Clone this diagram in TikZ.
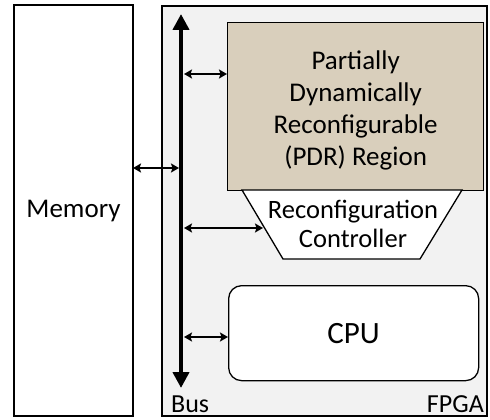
\documentclass[tikz,border=0pt]{standalone}
\usepackage{fontspec}
\setmainfont{Carlito}
\usetikzlibrary{arrows.meta}
\begin{document}
\begin{tikzpicture}[x=1pt,y=-1pt,
  box/.style={draw=black,line width=1.3pt},
  lbl/.style={font=\fontsize{27}{32}\selectfont,align=center,inner sep=0pt},
  link/.style={line width=2pt,{Stealth[length=8pt,width=9pt,inset=1.5pt]}-{Stealth[length=8pt,width=9pt,inset=1.5pt]}},
  busline/.style={line width=4.5pt,-{Triangle[length=16pt,width=16pt]}}]
\useasboundingbox (0,0) rectangle (490,420);
\definecolor{fpgagray}{RGB}{242,242,242}
\definecolor{pdrtan}{RGB}{217,207,188}
% Memory
\draw[box,fill=white] (14,5) rectangle (133,416);
\node[lbl] (mem) at (73.5,211) {Memory};
\coordinate (memR) at (133,168);
% FPGA
\draw[box,fill=fpgagray] (162,6) rectangle (487,416);
% PDR region
\node[box,fill=pdrtan,minimum width=256pt,minimum height=168pt,inner sep=0pt,anchor=north west] (pdr) at (227,22) {};
\node[lbl] at ([yshift=-4pt]pdr.center) {Partially\\Dynamically\\Reconfigurable\\(PDR) Region};
% Reconfiguration controller (trapezoid)
\draw[box,fill=white] (242,190) -- (462,190) -- (420,259) -- (283,259) -- cycle;
\node[lbl,font=\fontsize{26.5}{28.5}\selectfont] (rc) at (353,224) {Reconfiguration\\Controller};
\coordinate (rcL) at (263,228);
% CPU
\node[box,fill=white,rounded corners=13pt,minimum width=250pt,minimum height=95pt,anchor=north west,
  font=\fontsize{31}{34}\selectfont] (cpu) at (228,285) {CPU};
% Bus
\coordinate (busTop) at (181,14);
\coordinate (busBot) at (181,388);
\draw[busline] (181,200) -- (busTop);
\draw[busline] (181,200) -- (busBot);
\node[font=\fontsize{26}{30}\selectfont,anchor=base west,inner sep=0pt] (buslbl) at (171,412) {Bus};
\node[font=\fontsize{26}{30}\selectfont,anchor=base east,inner sep=0pt] (fpgalbl) at (484,412) {FPGA};
% links
\draw[link] (memR) -- (179,168);
\draw[link] (184,74) -- (pdr.west |- 0,74);
\draw[link] (184,228) -- (rcL);
\draw[link] (184,337) -- (cpu.west |- 0,337);
\end{tikzpicture}
\end{document}
